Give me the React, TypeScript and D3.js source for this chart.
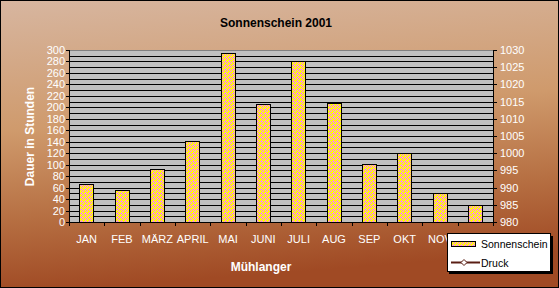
import React from "react";
import * as d3 from "d3";

const months = ["JAN", "FEB", "MÄRZ", "APRIL", "MAI", "JUNI", "JULI", "AUG", "SEP", "OKT", "NOV", "DEZ"];
const sonnenschein = [66, 55, 92, 142, 294, 205, 281, 208, 101, 121, 50, 29];
const druck: (number | null)[] = [];
const leftTicks = d3.range(0, 301, 20);
const gridTicks = d3.range(0, 301, 10);
const rightTicks = d3.range(980, 1031, 5);

const W = 559;
const H = 288;
const plot = { left: 69, right: 493, top: 50, bottom: 222 };
const font = "'Liberation Sans', Arial, sans-serif";

export default function App() {
  const x = d3
    .scaleBand<string>()
    .domain(months)
    .range([plot.left, plot.right])
    .paddingInner(0.59)
    .paddingOuter(0.295);
  const y = d3.scaleLinear().domain([0, 300]).range([plot.bottom, plot.top]);
  const y2 = d3.scaleLinear().domain([980, 1030]).range([plot.bottom, plot.top]);
  const step = x.step();
  const line = d3
    .line<number | null>()
    .defined((d) => d != null)
    .x((_, i) => (x(months[i]) ?? 0) + x.bandwidth() / 2)
    .y((d) => y2(d as number));

  return (
    <svg
      width={W}
      height={H}
      style={{ position: "absolute", left: 0, top: 0, display: "block" }}
      fontFamily={font}
    >
      <defs>
        <linearGradient id="bg" x1="0" y1="0" x2="0.15" y2="1">
          <stop offset="0" stopColor="#d7b6a0" />
          <stop offset="0.45" stopColor="#cf9a6c" />
          <stop offset="0.75" stopColor="#b66f42" />
          <stop offset="1" stopColor="#a04a24" />
        </linearGradient>
        <pattern id="dots" width="4" height="4" patternUnits="userSpaceOnUse">
          <rect width="4" height="4" fill="#ffff00" />
          <rect x="1" y="0" width="1" height="3" fill="#ff99cc" />
          <rect x="0" y="1" width="3" height="1" fill="#ff99cc" />
          <rect x="3" y="2" width="1" height="2" fill="#ff99cc" />
          <rect x="2" y="3" width="1" height="1" fill="#ff99cc" />
        </pattern>
      </defs>
      <rect x={0} y={0} width={W} height={H} fill="url(#bg)" />
      <rect x={0.5} y={0.5} width={W - 1} height={H - 1} fill="none" stroke="#000" />

      <text x={276} y={27} textAnchor="middle" fontSize={12} fontWeight="bold" fill="#000">
        Sonnenschein 2001
      </text>

      {/* plot area */}
      <rect
        x={plot.left}
        y={plot.top}
        width={plot.right - plot.left}
        height={plot.bottom - plot.top}
        fill="#c0c0c0"
      />
      {gridTicks.map((t) => (
        <line
          key={"g" + t}
          x1={plot.left}
          x2={plot.right}
          y1={Math.round(y(t)) + 0.5}
          y2={Math.round(y(t)) + 0.5}
          stroke={t === 300 ? "#808080" : "#000"}
          strokeWidth={1}
        />
      ))}

      {/* bars */}
      {sonnenschein.map((v, i) => (
        <rect
          key={"b" + i}
          x={Math.round(x(months[i]) ?? 0) + 0.5}
          y={Math.round(y(v)) + 0.5}
          width={Math.round(x.bandwidth())}
          height={Math.round(y(0)) - Math.round(y(v))}
          fill="url(#dots)"
          stroke="#000"
          strokeWidth={1}
        />
      ))}
      {druck.length > 0 && (
        <path d={line(druck) ?? ""} fill="none" stroke="#5a1e14" strokeWidth={3} />
      )}

      {/* left axis */}
      <line x1={plot.left + 0.5} x2={plot.left + 0.5} y1={plot.top} y2={plot.bottom + 4} stroke="#000" />
      {leftTicks.map((t) => (
        <g key={"l" + t}>
          <line
            x1={plot.left - 3}
            x2={plot.left}
            y1={Math.round(y(t)) + 0.5}
            y2={Math.round(y(t)) + 0.5}
            stroke="#000"
          />
          <text x={65} y={y(t) + 4} textAnchor="end" fontSize={11} fill="#fff">
            {t}
          </text>
        </g>
      ))}

      {/* right axis */}
      <line x1={plot.right + 0.5} x2={plot.right + 0.5} y1={plot.top} y2={plot.bottom + 4} stroke="#000" />
      {rightTicks.map((t) => (
        <g key={"r" + t}>
          <line
            x1={plot.right}
            x2={plot.right + 4}
            y1={Math.round(y2(t)) + 0.5}
            y2={Math.round(y2(t)) + 0.5}
            stroke="#000"
          />
          <text x={500} y={y2(t) + 4} textAnchor="start" fontSize={11} fill="#fff">
            {t}
          </text>
        </g>
      ))}

      {/* bottom axis */}
      <line x1={plot.left} x2={plot.right + 1} y1={plot.bottom + 0.5} y2={plot.bottom + 0.5} stroke="#000" />
      {d3.range(months.length + 1).map((i) => (
        <line
          key={"xt" + i}
          x1={Math.round(plot.left + i * step) + 0.5}
          x2={Math.round(plot.left + i * step) + 0.5}
          y1={plot.bottom}
          y2={plot.bottom + 4}
          stroke="#000"
        />
      ))}
      {months.map((m) => (
        <text
          key={"xl" + m}
          x={(x(m) ?? 0) + x.bandwidth() / 2}
          y={243}
          textAnchor="middle"
          fontSize={11}
          fill="#fff"
        >
          {m}
        </text>
      ))}

      <text
        transform={`translate(34,136.5) rotate(-90)`}
        textAnchor="middle"
        fontSize={12}
        fontWeight="bold"
        fill="#fff"
      >
        Dauer in Stunden
      </text>
      <text x={261} y={271} textAnchor="middle" fontSize={12} fontWeight="bold" fill="#fff">
        Mühlanger
      </text>

      {/* legend (drawn over the last category label, as in the original) */}
      <rect x={449} y={236} width={104} height={38} fill="#000" />
      <rect x={447.5} y={233.5} width={103} height={38} fill="#fff" stroke="#000" />
      <rect x={451.5} y={241.5} width={24} height={5} fill="url(#dots)" stroke="#000" />
      <text x={481} y={248} fontSize={10.5} fill="#000">
        Sonnenschein
      </text>
      <line x1={451} x2={480} y1={262.5} y2={262.5} stroke="#5a1e14" strokeWidth={2} />
      <path d="M464,259.5 L467,262.5 L464,265.5 L461,262.5 Z" fill="#fff" stroke="#5a1e14" strokeWidth={1} />
      <text x={481} y={266.5} fontSize={10.5} fill="#000">
        Druck
      </text>
    </svg>
  );
}
